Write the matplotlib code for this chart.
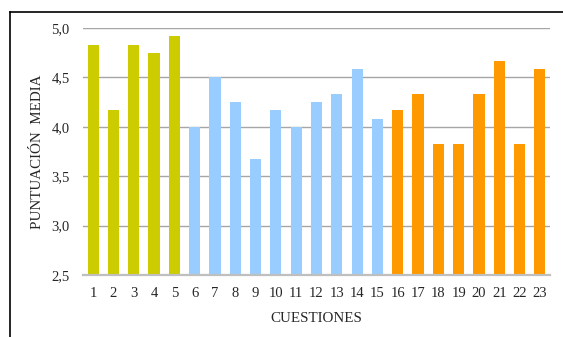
import matplotlib
matplotlib.use("Agg")
import matplotlib.pyplot as plt
from matplotlib.lines import Line2D

# Mean score per question, grouped in three blocks
questions = [str(i) for i in range(1, 24)]
block_a = [4.83, 4.17, 4.83, 4.75, 4.92]
block_b = [4.00, 4.50, 4.25, 3.67, 4.17, 4.00, 4.25, 4.33, 4.58, 4.08]
block_c = [4.17, 4.33, 3.83, 3.83, 4.33, 4.67, 3.83, 4.58]
block_colors = ["#CCCC00", "#99CCFF", "#FF9900"]

y_ticks = [2.5, 3.0, 3.5, 4.0, 4.5, 5.0]
y_tick_labels = ["2,5", "3,0", "3,5", "4,0", "4,5", "5,0"]

plt.rcParams["font.family"] = ["Liberation Serif", "DejaVu Serif"]

fig = plt.figure(figsize=(5.63, 3.37), dpi=100)
ax = fig.add_axes([83 / 563, 1 - 275 / 337, 467 / 563, 247 / 337])

values = block_a + block_b + block_c
colors = ([block_colors[0]] * len(block_a) + [block_colors[1]] * len(block_b)
          + [block_colors[2]] * len(block_c))
positions = list(range(len(questions)))
ax.bar(positions, [v - 2.5 for v in values], bottom=2.5, width=0.55,
       color=colors, zorder=3)

ax.set_xlim(-0.5, len(questions) - 0.5)
ax.set_ylim(2.5, 5.0)
ax.set_xticks(positions)
ax.set_xticklabels(questions, fontsize=10.5)
ax.set_yticks(y_ticks)
ax.set_yticklabels(y_tick_labels, fontsize=10.5)
ax.tick_params(axis="both", length=0, colors="#262626")
ax.tick_params(axis="y", pad=9.5)
ax.tick_params(axis="x", pad=8.5)

ax.grid(axis="y", color="#A6A6A6", linewidth=1.0, zorder=0)
for side in ["top", "right", "left"]:
    ax.spines[side].set_visible(False)
ax.spines["bottom"].set_color("#BFBFBF")
ax.spines["bottom"].set_linewidth(1.6)
ax.spines["bottom"].set_zorder(4)

ax.set_xlabel("CUESTIONES", fontsize=10.8, labelpad=9, color="#262626")
ax.set_ylabel("PUNTUACIÓN  MEDIA", fontsize=10.8, labelpad=5, color="#262626")

# Outer frame: top and left edges only
fig.add_artist(Line2D([10 / 563, 1.0], [1 - 12 / 337, 1 - 12 / 337],
                      transform=fig.transFigure, color="black", linewidth=1.2))
fig.add_artist(Line2D([10 / 563, 10 / 563], [0.0, 1 - 12 / 337],
                      transform=fig.transFigure, color="black", linewidth=1.2))

fig.savefig("out.png", dpi=100)
